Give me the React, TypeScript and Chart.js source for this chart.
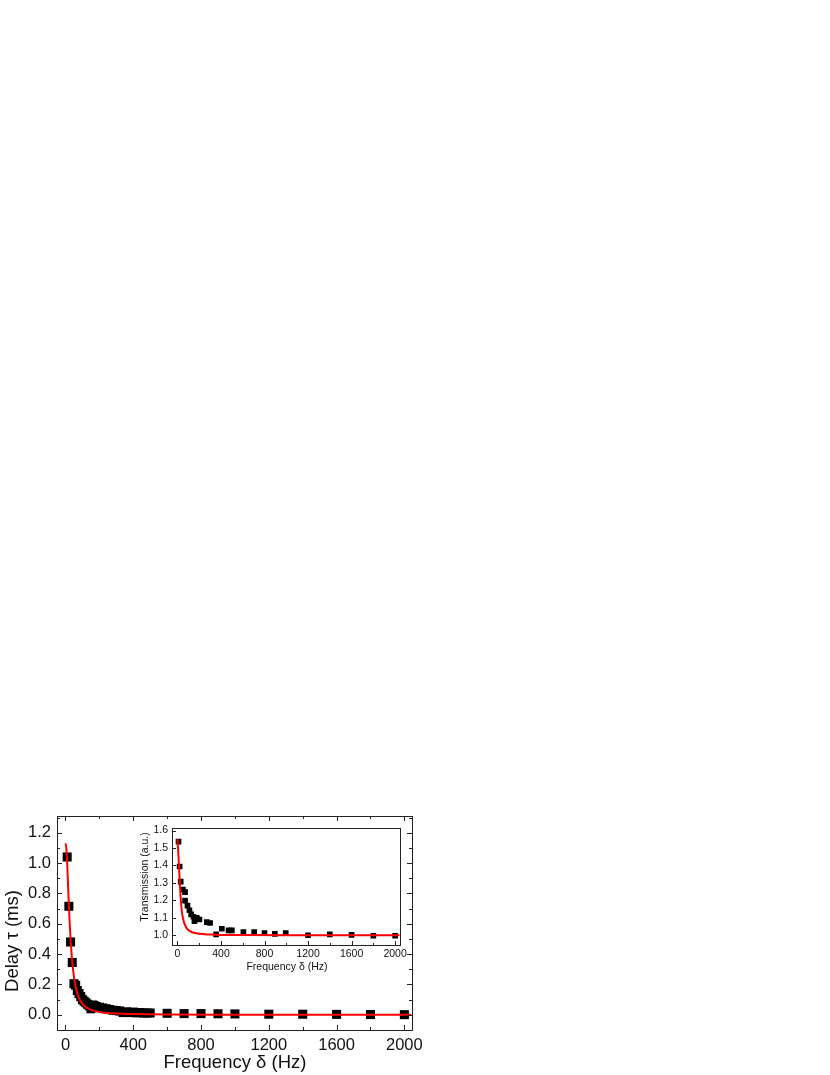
import React, { useEffect, useRef } from "react";
import { Chart, registerables } from "chart.js";
Chart.register(...registerables);

// ---- Main chart data ----
const mainFreq = [10, 20, 30, 40, 50, 60, 70, 80, 90, 100, 110, 120, 130, 140, 150, 160, 170, 180, 200, 220, 240, 260, 280, 300, 320, 340, 360, 380, 400, 420, 440, 460, 480, 500, 600, 700, 800, 900, 1000, 1200, 1400, 1600, 1800, 2000];
const mainDelay = [1.04, 0.715, 0.48, 0.345, 0.205, 0.195, 0.16, 0.14, 0.12, 0.1, 0.09, 0.08, 0.07, 0.06, 0.04, 0.065, 0.06, 0.055, 0.05, 0.045, 0.04, 0.035, 0.03, 0.028, 0.025, 0.015, 0.02, 0.015, 0.018, 0.013, 0.015, 0.012, 0.012, 0.012, 0.01, 0.008, 0.008, 0.007, 0.006, 0.004, 0.004, 0.003, 0.002, 0.001];
const mainFitFreq = [0, 5, 10, 15, 20, 25, 30, 40, 50, 60, 70, 80, 100, 125, 150, 200, 250, 300, 400, 600, 1000, 2040];
const mainFitDelay = [1.13, 1.1, 1.0, 0.86, 0.72, 0.6, 0.5, 0.35, 0.25, 0.185, 0.14, 0.11, 0.072, 0.047, 0.033, 0.019, 0.012, 0.008, 0.005, 0.002, 0.001, 0.0];
const mainXTicks = [0, 400, 800, 1200, 1600, 2000];
const mainXMinor = [200, 600, 1000, 1400, 1800];
const mainYTicks = [0, 0.2, 0.4, 0.6, 0.8, 1.0, 1.2];
const mainYMinor = [-0.1, 0.1, 0.3, 0.5, 0.7, 0.9, 1.1, 1.3];

// ---- Inset data ----
const insetFreq = [10, 20, 30, 50, 70, 70, 92, 110, 126, 147, 156, 178, 202, 270, 300, 355, 408, 470, 500, 606, 705, 800, 895, 995, 1200, 1400, 1600, 1800, 2000];
const insetTrans = [1.537, 1.394, 1.307, 1.262, 1.247, 1.198, 1.17, 1.143, 1.12, 1.106, 1.08, 1.1, 1.09, 1.075, 1.07, 1.005, 1.037, 1.028, 1.028, 1.018, 1.018, 1.012, 1.008, 1.012, 1.0, 1.005, 1.002, 0.997, 0.997];
const insetFitFreq = [0, 10, 20, 30, 40, 50, 60, 70, 80, 100, 125, 150, 200, 300, 400, 600, 1000, 2040];
const insetFitTrans = [1.55, 1.45, 1.32, 1.21, 1.14, 1.1, 1.075, 1.058, 1.045, 1.03, 1.02, 1.014, 1.008, 1.004, 1.002, 1.001, 1.0, 1.0];
const insetXTicks = [0, 400, 800, 1200, 1600, 2000];
const insetXMinor = [200, 600, 1000, 1400, 1800];
const insetYTicks = [1.0, 1.1, 1.2, 1.3, 1.4, 1.5, 1.6];
const insetYMinor: number[] = [];

const FONT = "'Liberation Sans', Arial, Helvetica, sans-serif";

type FrameOpts = {
  xMinor: number[];
  yMinor: number[];
  major: number;
  minor: number;
  mirror: boolean;
  xTitle: string;
  yTitle: string;
  titleFont: number;
  xTitlePos: [number, number];
  yTitlePos: [number, number];
};

function framePlugin(o: FrameOpts) {
  return {
    id: "frameTicks",
    afterDraw(chart: any) {
      const { ctx, chartArea } = chart;
      const { left, right, top, bottom } = chartArea;
      const xs = chart.scales.x;
      const ys = chart.scales.y;
      ctx.save();
      ctx.strokeStyle = "#222";
      ctx.lineWidth = 1;
      ctx.strokeRect(Math.round(left) + 0.5, Math.round(top) + 0.5, Math.round(right - left), Math.round(bottom - top));
      ctx.beginPath();
      const xt = (v: number, len: number) => {
        const p = Math.round(xs.getPixelForValue(v)) + 0.5;
        ctx.moveTo(p, bottom);
        ctx.lineTo(p, bottom - len);
        if (o.mirror) {
          ctx.moveTo(p, top);
          ctx.lineTo(p, top + len);
        }
      };
      const yt = (v: number, len: number) => {
        const p = Math.round(ys.getPixelForValue(v)) + 0.5;
        if (p < top || p > bottom) return;
        ctx.moveTo(left, p);
        ctx.lineTo(left + len, p);
        if (o.mirror) {
          ctx.moveTo(right, p);
          ctx.lineTo(right - len, p);
        }
      };
      xs.ticks.forEach((t: any) => xt(t.value, o.major));
      o.xMinor.forEach((v) => xt(v, o.minor));
      ys.ticks.forEach((t: any) => yt(t.value, o.major));
      o.yMinor.forEach((v) => yt(v, o.minor));
      ctx.stroke();

      ctx.fillStyle = "#111";
      ctx.font = `${o.titleFont}px ${FONT}`;
      ctx.textAlign = "center";
      ctx.textBaseline = "middle";
      ctx.fillText(o.xTitle, o.xTitlePos[0], o.xTitlePos[1]);
      ctx.translate(o.yTitlePos[0], o.yTitlePos[1]);
      ctx.rotate(-Math.PI / 2);
      ctx.fillText(o.yTitle, 0, 0);
      ctx.restore();
    },
  };
}

function makeConfig(p: {
  pts: { x: number; y: number }[];
  fit: { x: number; y: number }[];
  xMin: number; xMax: number; yMin: number; yMax: number;
  xTicks: number[]; yTicks: number[];
  yWidth: number; xHeight: number;
  padding: { top: number; right: number; left: number; bottom: number };
  tickFont: number; xPad: number; yPad: number;
  radius: number; lineWidth: number;
  plugin: any;
}) {
  return {
    type: "scatter",
    data: {
      datasets: [
        {
          type: "line",
          data: p.fit,
          borderColor: "#ff0000",
          borderWidth: p.lineWidth,
          pointRadius: 0,
          showLine: true,
          fill: false,
          cubicInterpolationMode: "monotone",
        },
        {
          type: "scatter",
          data: p.pts,
          pointStyle: "rect",
          pointRadius: p.radius,
          pointBackgroundColor: "#000",
          pointBorderColor: "#000",
          pointBorderWidth: 0,
        },
      ],
    },
    options: {
      animation: false,
      responsive: false,
      maintainAspectRatio: false,
      layout: { padding: p.padding },
      plugins: { legend: { display: false }, tooltip: { enabled: false } },
      scales: {
        x: {
          type: "linear",
          min: p.xMin,
          max: p.xMax,
          grid: { display: false, drawTicks: false },
          border: { display: false },
          afterBuildTicks: (s: any) => { s.ticks = p.xTicks.map((v) => ({ value: v })); },
          afterFit: (s: any) => { s.height = p.xHeight; },
          ticks: {
            padding: p.xPad,
            color: "#111",
            font: { family: FONT, size: p.tickFont },
            maxRotation: 0,
            autoSkip: false,
            callback: (v: any) => String(v),
          },
        },
        y: {
          type: "linear",
          min: p.yMin,
          max: p.yMax,
          grid: { display: false, drawTicks: false },
          border: { display: false },
          afterBuildTicks: (s: any) => { s.ticks = p.yTicks.map((v) => ({ value: v })); },
          afterFit: (s: any) => { s.width = p.yWidth; },
          ticks: {
            padding: p.yPad,
            color: "#111",
            font: { family: FONT, size: p.tickFont },
            autoSkip: false,
            callback: (v: any) => Number(v).toFixed(1),
          },
        },
      },
    },
    plugins: [p.plugin],
  };
}

export default function App() {
  const mainRef = useRef<HTMLCanvasElement>(null);
  const insetRef = useRef<HTMLCanvasElement>(null);

  useEffect(() => {
    const mainCfg: any = makeConfig({
      pts: mainFreq.map((x, i) => ({ x, y: mainDelay[i] })),
      fit: mainFitFreq.map((x, i) => ({ x, y: mainFitDelay[i] })),
      xMin: -50, xMax: 2045, yMin: -0.1, yMax: 1.31,
      xTicks: mainXTicks, yTicks: mainYTicks,
      yWidth: 57, xHeight: 45,
      padding: { top: 16, right: 18, left: 0, bottom: 0 },
      tickFont: 16.5, xPad: 6, yPad: 6,
      radius: 6.4, lineWidth: 2,
      plugin: framePlugin({
        xMinor: mainXMinor, yMinor: mainYMinor, major: 5, minor: 3, mirror: true,
        xTitle: "Frequency \u03b4 (Hz)", yTitle: "Delay \u03c4 (ms)", titleFont: 18.5,
        xTitlePos: [235, 263], yTitlePos: [13, 141],
      }),
    });
    const insetCfg: any = makeConfig({
      pts: insetFreq.map((x, i) => ({ x, y: insetTrans[i] })),
      fit: insetFitFreq.map((x, i) => ({ x, y: insetFitTrans[i] })),
      xMin: -50, xMax: 2045, yMin: 0.944, yMax: 1.613,
      xTicks: insetXTicks, yTicks: insetYTicks,
      yWidth: 42, xHeight: 33,
      padding: { top: 7, right: 15, left: 0, bottom: 0 },
      tickFont: 10.5, xPad: 3, yPad: 4,
      radius: 4, lineWidth: 2,
      plugin: framePlugin({
        xMinor: insetXMinor, yMinor: insetYMinor, major: 4, minor: 2, mirror: false,
        xTitle: "Frequency \u03b4 (Hz)", yTitle: "Transmission (a.u.)", titleFont: 10.5,
        xTitlePos: [157, 149], yTitlePos: [15, 59],
      }),
    });
    const c1 = new Chart(mainRef.current as HTMLCanvasElement, mainCfg);
    const c2 = new Chart(insetRef.current as HTMLCanvasElement, insetCfg);
    return () => {
      c1.destroy();
      c2.destroy();
    };
  }, []);

  return (
    <div style={{ position: "absolute", left: 0, top: 0, width: 830, height: 1075, background: "#fff", overflow: "hidden" }}>
      <canvas ref={mainRef} width={430} height={275} style={{ position: "absolute", left: 0, top: 800, width: 430, height: 275 }} />
      <canvas ref={insetRef} width={285} height={160} style={{ position: "absolute", left: 130, top: 818, width: 285, height: 160 }} />
    </div>
  );
}
